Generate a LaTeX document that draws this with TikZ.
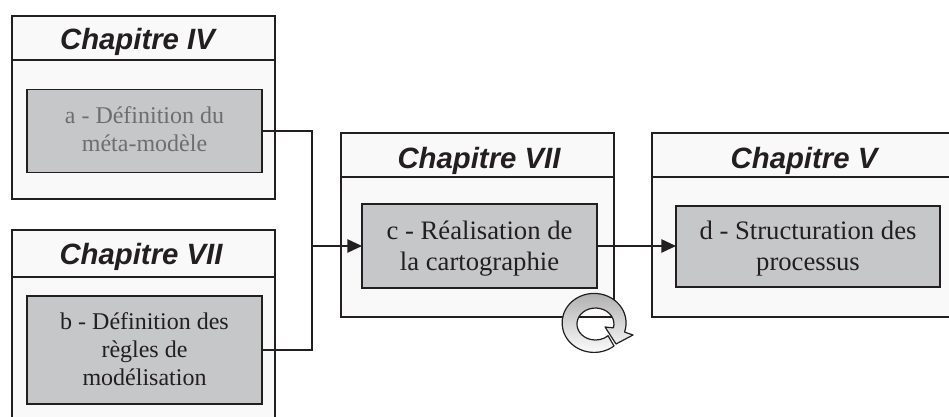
\documentclass[tikz,border=0pt]{standalone}
\usepackage{fontspec}
\setmainfont{Liberation Serif}
\newfontfamily\titlefont{Liberation Sans}
\usetikzlibrary{arrows.meta}
\definecolor{inkline}{HTML}{231F20}
\definecolor{panelfill}{HTML}{F9F9F9}
\definecolor{taskfill}{HTML}{C6C7C9}
\definecolor{fadedtext}{HTML}{6D6E70}
\def\px{0.75pt}
\tikzset{
  chapbox/.style={rectangle,draw=inkline,fill=panelfill,line width=1.1pt,inner sep=0pt,outer sep=0pt},
  chaptitle/.style={font=\titlefont\fontsize{22}{26}\selectfont\bfseries\itshape,text=inkline,inner sep=0pt},
  taskbox/.style={rectangle,draw=inkline,fill=taskfill,line width=1.1pt,inner sep=0pt,outer sep=0pt,align=center,text=inkline,font=\fontsize{18}{21}\selectfont},
  taskboxbig/.style={taskbox,font=\fontsize{20}{23.5}\selectfont},
  link/.style={draw=inkline,line width=1.1pt},
}

\begin{document}
\begin{tikzpicture}[x=0.75pt,y=0.75pt]
\useasboundingbox (0,0) rectangle (949,417);
\fill[white] (0,0) rectangle (949,417);
\begin{scope}
\clip (0,0) rectangle (949,417);
\node[chapbox,minimum width=263*\px,minimum height=183*\px] (boxA) at (143.5,309.5) {};
\node[chapbox,minimum width=263*\px,minimum height=195*\px] (boxB) at (143.5,89.5) {};
\node[chapbox,minimum width=273*\px,minimum height=184*\px] (boxC) at (477.5,192) {};
\node[chapbox,minimum width=308*\px,minimum height=184*\px] (boxD) at (806,192) {};
\end{scope}

\draw[link] (12,357) -- (275,357);
\draw[link] (12,140) -- (275,140);
\draw[link] (341,240) -- (614,240);
\draw[link] (652,240) -- (949,240);

\node[chaptitle] (titleA) at (137.5,375.5) {Chapitre IV};
\node[chaptitle] (titleB) at (141,160) {Chapitre VII};
\node[chaptitle] (titleC) at (479,256.5) {Chapitre VII};
\node[chaptitle] (titleD) at (804,256.5) {Chapitre V};

\node[taskbox,minimum width=235*\px,minimum height=83*\px,text=fadedtext] (a) at (144.5,286) {a - Définition du\\méta-modèle\rule[-3pt]{0pt}{3pt}};
\node[taskbox,minimum width=235*\px,minimum height=108*\px] (b) at (144.5,67) {b - Définition des\\règles de\\modélisation\rule[-2pt]{0pt}{2pt}};
\node[taskboxbig,minimum width=235*\px,minimum height=84*\px] (c) at (479.5,171) {\rule{0pt}{17.5pt}c - Réalisation de\\la cartographie};
\node[taskboxbig,minimum width=264*\px,minimum height=81*\px] (d) at (808,170.5) {\rule{0pt}{17.5pt}d - Structuration des\\processus};

\coordinate (J) at (312,171);
\draw[link] (a.east) -| (J);
\draw[link] (b.east) -| (J);
\draw[link,-{Stealth[length=11pt,width=10pt,inset=0pt]}] (J) -- (c.west);
\draw[link,-{Stealth[length=11pt,width=10pt,inset=0pt]}] (c.east) -- (c.east -| d.west);

% rotating arrow
\shadedraw[draw=inkline,line width=0.9pt,line join=round,top color=gray!65,bottom color=white]
  (614,71) arc[start angle=-51.5,end angle=-378,x radius=32,y radius=29.5]
  -- (633,82) -- (616,73) -- (605,90) -- (613.4,89.1)
  arc[start angle=-14,end angle=313,x radius=18.5,y radius=16] -- cycle;
\end{tikzpicture}
\end{document}
